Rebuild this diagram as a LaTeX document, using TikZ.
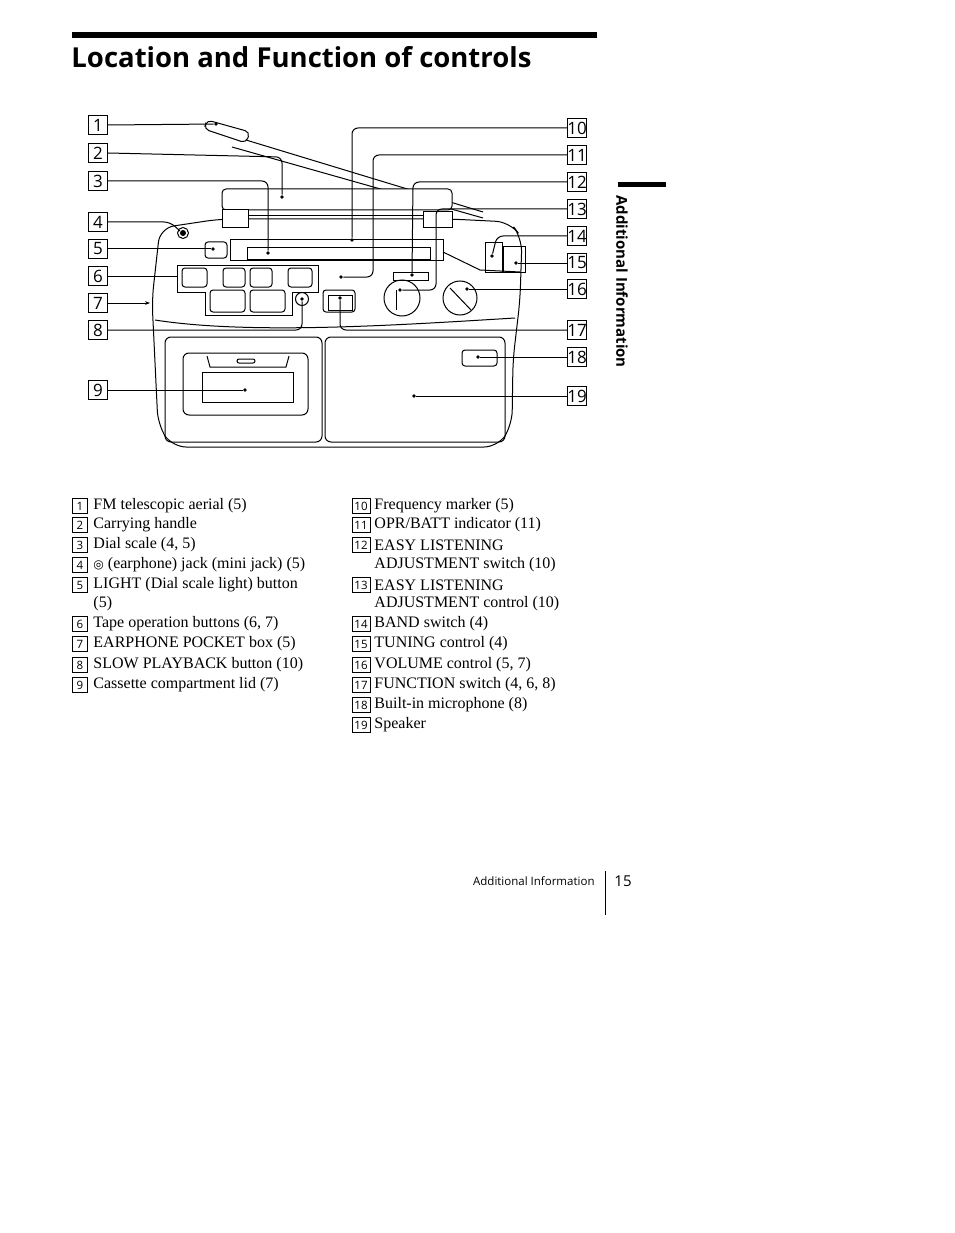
\documentclass[tikz,border=0pt]{standalone}
\usepackage{fontspec}
\setmainfont{Liberation Serif}
\newfontfamily\titlefont{Open Sans}
\newfontfamily\symfont{DejaVu Sans}
\usetikzlibrary{arrows.meta}
\begin{document}
\begin{tikzpicture}[x=1pt,y=-1pt,line width=0.9pt,
 lbl/.style={draw,line width=0.9pt,minimum width=19pt,minimum height=19pt,inner sep=0pt,font=\titlefont\fontsize{17}{17}\selectfont},
 sbox/.style={draw,line width=0.7pt,minimum width=15pt,minimum height=15pt,inner sep=0pt,font=\titlefont\fontsize{11.5}{11.5}\selectfont},
 leg/.style={anchor=west,font=\fontsize{16}{18}\selectfont,inner sep=0pt},
 dev/.style={line width=1pt},
 dot/.style={circle,fill,inner sep=1.4pt},
 lead/.style={line width=1pt,rounded corners=6pt}]
\useasboundingbox (0,0) rectangle (954,1233);
\fill (72,32) rectangle (597,38);
\node[anchor=west,inner sep=0pt,font=\titlefont\bfseries\fontsize{27.5}{27.5}\selectfont] (title) at (71,57) {Location and Function of controls};
% side tab
\fill (618,182) rectangle (666,187);
\node[rotate=-90,anchor=west,inner sep=0pt,font=\titlefont\bfseries\fontsize{15}{15}\selectfont] (side) at (622,195) {Additional Information};
% device
\draw[dev] (232,147) -- (483,218);
\draw[dev] (246,140) -- (483,212);
\draw[dev,rounded corners=5pt,fill=white] (207,120) -- (250,132) -- (246,143) -- (204,129) -- cycle;
\draw[dev,rounded corners=14pt] (160,228) -- (220,219) -- (450,219) -- (510,222) -- (522,238) -- (520,300) -- (513,360) -- (512,425) -- (498,447) -- (172,447) -- (158,425) -- (152,300) -- cycle;
\draw[dev,rounded corners=4pt,fill=white] (222,189) rectangle (452,210);
\draw[dev,fill=white] (222,210) rectangle (248,228);
\draw[dev,fill=white] (423,212) rectangle (452,228);
\draw[dev] (248,216) -- (423,216);
\draw[dev] (183,233) circle (5.5pt);
\fill (183,233) circle (3pt);
\draw[dev,rounded corners=3pt] (205,242) rectangle (227,258);
\draw[dev] (230,240) rectangle (443,260);
\draw[dev] (247,248) rectangle (430,259);
\draw[dev] (443,252) -- (480,270) -- (520,272);
\draw[dev] (177,265) -- (318,265) -- (318,292) -- (292,292) -- (292,315) -- (205,315) -- (205,292) -- (177,292) -- cycle;
\foreach \a/\b in {182/207,223/245,250/272,288/312}{\draw[dev,rounded corners=3pt] (\a,268) rectangle (\b,287);}
\draw[dev,rounded corners=3pt] (210,290) rectangle (245,312);
\draw[dev,rounded corners=3pt] (250,290) rectangle (285,312);
\draw[dev] (302,299) circle (6.5pt);
\draw[dev,rounded corners=3pt] (323,290) rectangle (355,312);
\draw[dev] (328,295) rectangle (352,310);
\draw[dev] (393,272) rectangle (428,280);
\draw[dev] (402,298) circle (18pt);
\draw[dev] (396,290) -- (396,310);
\draw[dev] (460,298) circle (17pt);
\draw[dev] (450,288) -- (471,310);
\draw[dev] (485,243) rectangle (502,272);
\draw[dev] (503,247) rectangle (525,272);
\draw[dev] (155,320) .. controls (250,335) and (400,325) .. (515,318);
\draw[dev,rounded corners=6pt] (165,337) rectangle (322,442);
\draw[dev,rounded corners=6pt] (325,337) rectangle (505,442);
\draw[dev,rounded corners=6pt] (183,353) rectangle (308,415);
\draw[dev] (202,372) rectangle (293,402);
\draw[dev] (207,356) -- (210,367) -- (286,367) -- (289,356);
\draw[dev,rounded corners=2pt] (237,359) rectangle (255,363);
\draw[dev,rounded corners=3pt] (462,350) rectangle (497,366);
% labels
\node[lbl] (l1) at (98,125) {1};
\node[lbl] (l2) at (98,153) {2};
\node[lbl] (l3) at (98,181) {3};
\node[lbl] (l4) at (98,222) {4};
\node[lbl] (l5) at (98,249) {5};
\node[lbl] (l6) at (98,276) {6};
\node[lbl] (l7) at (98,303) {7};
\node[lbl] (l8) at (98,330) {8};
\node[lbl] (l9) at (98,390) {9};
\node[lbl] (r10) at (577,128) {10};
\node[lbl] (r11) at (577,155) {11};
\node[lbl] (r12) at (577,182) {12};
\node[lbl] (r13) at (577,209) {13};
\node[lbl] (r14) at (577,236) {14};
\node[lbl] (r15) at (577,263) {15};
\node[lbl] (r16) at (577,289) {16};
\node[lbl] (r17) at (577,330) {17};
\node[lbl] (r18) at (577,357) {18};
\node[lbl] (r19) at (577,396) {19};
\node[dot] (t1) at (216,124) {};
\node[dot] (t2) at (282,197) {};
\node[dot] (t3) at (268,253) {};
\coordinate (t4) at (180,231);
\node[dot] (t5) at (213,249) {};
\coordinate (t6) at (177,276);
\coordinate (t7) at (150,303);
\node[dot] (t8) at (302,299) {};
\node[dot] (t9) at (245,390) {};
\node[dot] (t10) at (352,240) {};
\node[dot] (t11) at (341,277) {};
\node[dot] (t12) at (412,275) {};
\node[dot] (t13) at (400,290) {};
\node[dot] (t14) at (492,256) {};
\node[dot] (t15) at (516,263) {};
\node[dot] (t16) at (467,289) {};
\node[dot] (t17) at (340,298) {};
\node[dot] (t18) at (478,357) {};
\node[dot] (t19) at (414,396) {};
\draw[lead] (l1.east) -- (t1);
\draw[lead] (l2.east) -- (282,157) -- (t2);
\draw[lead] (l3.east) -- (268,181) -- (t3);
\draw[lead] (l4.east) -- (170,222) -- (t4);
\draw[lead] (l5.east) -- (t5);
\draw[lead] (l6.east) -- (t6);
\draw[lead,-{Stealth[length=5pt]}] (l7.east) -- (t7);
\draw[lead] (l8.east) -- (302,330) -- (t8);
\draw[lead] (l9.east) -- (t9);
\draw[lead] (r10.west) -- (352,128) -- (t10);
\draw[lead] (r11.west) -- (373,155) -- (373,277) -- (t11);
\draw[lead] (r12.west) -- (413,182) -- (t12);
\draw[lead] (r13.west) -- (436,209) -- (436,290) -- (t13);
\draw[lead] (r14.west) -- (497,236) -- (t14);
\draw[lead] (r15.west) -- (t15);
\draw[lead] (r16.west) -- (t16);
\draw[lead] (r17.west) -- (340,330) -- (t17);
\draw[lead] (r18.west) -- (t18);
\draw[lead] (r19.west) -- (t19);
% legend
\foreach \n/\y/\t in {1/506/{FM telescopic aerial (5)},2/525/{Carrying handle},3/545/{Dial scale (4, 5)},4/565/{{\symfont\fontsize{12}{12}\selectfont ◎} (earphone) jack (mini jack) (5)},5/585/{LIGHT (Dial scale light) button},6/624/{Tape operation buttons (6, 7)},7/644/{EARPHONE POCKET box (5)},8/665/{SLOW PLAYBACK button (10)},9/685/{Cassette compartment lid (7)}}{
 \node[sbox] (b\n) at (80,\y) {\n};
 \node[leg] (x\n) at (93,\y) {\t};}
\node[leg] (x5b) at (93,604) {(5)};
\foreach \n/\y/\t in {10/506/{Frequency marker (5)},11/525/{OPR/BATT indicator (11)},12/545/{EASY LISTENING},13/585/{EASY LISTENING},14/624/{BAND switch (4)},15/644/{TUNING control (4)},16/665/{VOLUME control (5, 7)},17/685/{FUNCTION switch (4, 6, 8)},18/705/{Built-in microphone (8)},19/725/{Speaker}}{
 \node[sbox,minimum width=18pt] (b\n) at (361,\y) {\n};
 \node[leg] (x\n) at (374,\y) {\t};}
\node[leg] (x12b) at (374,565) {ADJUSTMENT switch (10)};
\node[leg] (x13b) at (374,604) {ADJUSTMENT control (10)};
% footer
\node[anchor=east,inner sep=0pt,font=\titlefont\fontsize{11.5}{11.5}\selectfont] (foot) at (595,881) {Additional Information};
\draw[line width=0.8pt] (605,871) -- (605,915);
\node[anchor=west,inner sep=0pt,font=\titlefont\fontsize{15}{15}\selectfont] (pg) at (614,881) {15};
\end{tikzpicture}
\end{document}
